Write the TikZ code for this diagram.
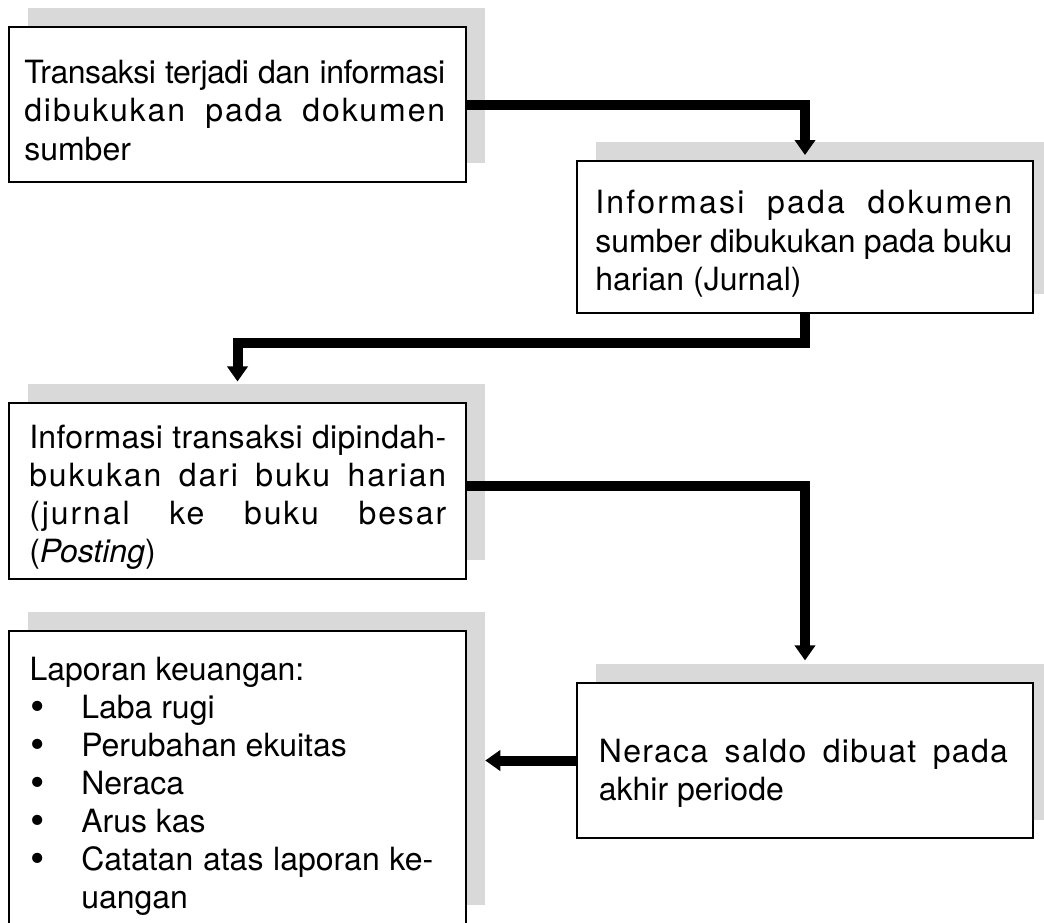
\documentclass[tikz,border=0pt]{standalone}
\usepackage{fontspec}
\usepackage{graphicx}
\setmainfont{TeX Gyre Heros}
\usetikzlibrary{arrows.meta,fit,calc}
\definecolor{shadowgray}{RGB}{217,217,217}
\tikzset{
  shadowbox/.style={fill=shadowgray, draw=none, inner sep=0pt},
  stepbox/.style={draw=black, fill=white, line width=1.5pt, inner sep=0pt},
  txt/.style={anchor=base west, inner sep=0pt, font=\fontsize{24pt}{28.5pt}\selectfont},
  flow/.style={line width=7.5pt, line join=miter, -{Triangle[width=15pt,length=11.25pt]}},
}
% justified line: width (pt), letter spacing, text
\newcommand{\jline}[3]{\makebox[#1pt][s]{\addfontfeature{LetterSpace=#2}#3}}
% list bullet
\newcommand{\listdot}{\raisebox{-2pt}[14pt][0pt]{\scalebox{1.28}{•}}}
\begin{document}
\begin{tikzpicture}[x=0.75pt, y=-0.75pt]
\useasboundingbox (0,0) rectangle (1044,922);

% shadows
\node[shadowbox, fit={(28,8) (485,163)}] (sh1) {};
\node[shadowbox, fit={(596,141.7) (1052,294)}] (sh2) {};
\node[shadowbox, fit={(28,384) (485,560)}] (sh3) {};
\node[shadowbox, fit={(596,664) (1052,820)}] (sh4) {};
\node[shadowbox, fit={(28,612) (485,905)}] (sh5) {};

% boxes
\node[stepbox, fit={(9,27) (466,182)}] (box1) {};
\node[stepbox, fit={(577,160.7) (1033,313)}] (box2) {};
\node[stepbox, fit={(9,403) (466,579)}] (box3) {};
\node[stepbox, fit={(577,683) (1033,838)}] (box4) {};
\node[stepbox, fit={(9,631) (466,928)}] (box5) {};

% box 1
\node[txt] (b1a) at (24,83.5) {\jline{315.75}{-1.5}{Transaksi terjadi dan informasi}};
\node[txt] (b1b) at (24,121.8) {\jline{315.75}{6}{dibukukan pada dokumen}};
\node[txt] (b1c) at (24,160) {sumber};

% box 2
\node[txt] (b2a) at (595,213) {\jline{312.75}{7}{Informasi pada dokumen}};
\node[txt] (b2b) at (595,252) {\jline{312.75}{0}{sumber dibukukan pada buku}};
\node[txt] (b2c) at (595,290.5) {harian (Jurnal)};

% box 3
\node[txt] (b3a) at (29,448) {\jline{312.75}{1}{Informasi transaksi dipindah-}};
\node[txt] (b3b) at (29,486) {\jline{312.75}{6}{bukukan dari buku harian}};
\node[txt] (b3c) at (29,524) {\jline{312.75}{6}{(jurnal ke buku besar}};
\node[txt] (b3d) at (29,562) {(\textit{Posting})};

% box 4
\node[txt] (b4a) at (598.6,762) {\jline{306.75}{4}{Neraca saldo dibuat pada}};
\node[txt] (b4b) at (598.6,800) {akhir periode};

% box 5
\node[txt] (b5h) at (29.3,680) {Laporan keuangan:};
\node[txt] (bu1) at (30,718) {\listdot};
\node[txt] (b5a) at (81,718) {Laba rugi};
\node[txt] (bu2) at (30,756) {\listdot};
\node[txt] (b5b) at (81,756) {Perubahan ekuitas};
\node[txt] (bu3) at (30,794) {\listdot};
\node[txt] (b5c) at (81,794) {Neraca};
\node[txt] (bu4) at (30,832) {\listdot};
\node[txt] (b5d) at (81,832) {Arus kas};
\node[txt] (bu5) at (30,870) {\listdot};
\node[txt] (b5e) at (81,870) {\jline{264}{0}{Catatan atas laporan ke-}};
\node[txt] (b5f) at (81,908) {uangan};

% connectors
\draw[flow, shorten >=3.5pt] (box1.east) -| (box2.north);
\draw[flow, shorten >=1.7pt] (box2.south) -- ++(0,29) -| (box3.north |- sh3.north);
\draw[flow, shorten >=2.5pt] ([yshift=3.75pt]box3.east) -| (box4.north |- sh4.north);
\draw[flow] (box4.west) -- (box4.west -| sh5.east);
\end{tikzpicture}
\end{document}
